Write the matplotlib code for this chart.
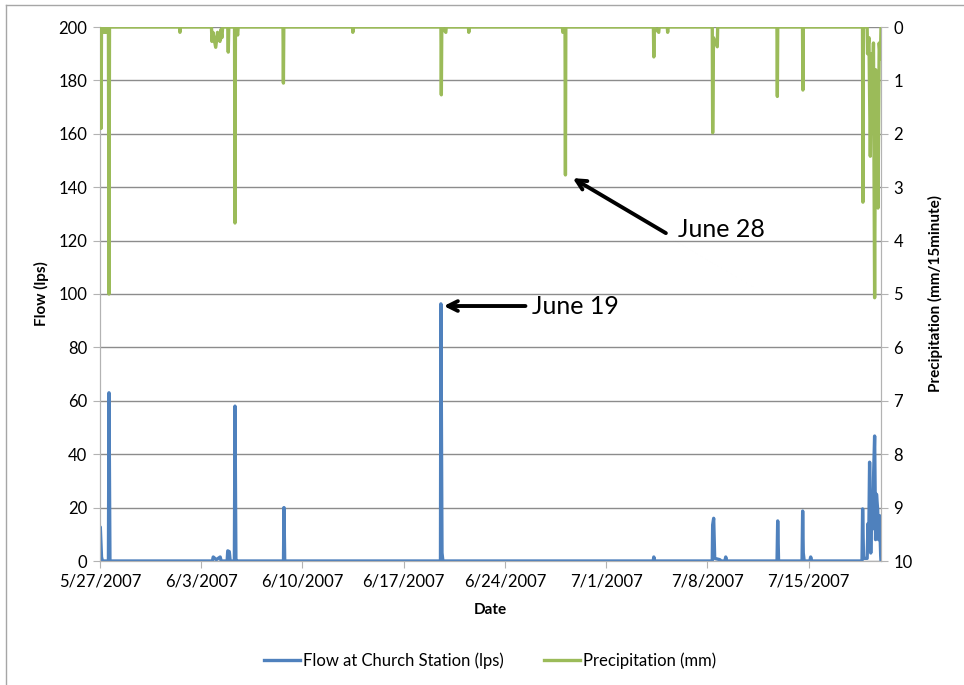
import numpy as np
import pandas as pd
import matplotlib
matplotlib.use("Agg")
import matplotlib.pyplot as plt
from matplotlib.lines import Line2D

plt.rcParams['font.family'] = ['Lato', 'DejaVu Sans']

# Flow at Church Station (lps)
flow_times = [
    "2007-05-27 00:00", "2007-05-27 00:30", "2007-05-27 02:30", "2007-05-27 04:00",
    "2007-05-27 14:00", "2007-05-27 14:55", "2007-05-27 16:30",
    "2007-06-03 18:30", "2007-06-03 19:55", "2007-06-04 01:00", "2007-06-04 07:25", "2007-06-04 09:00",
    "2007-06-04 19:00", "2007-06-04 20:00", "2007-06-04 22:30", "2007-06-05 00:00",
    "2007-06-05 07:00", "2007-06-05 08:00", "2007-06-05 09:30", "2007-06-05 11:00",
    "2007-06-08 16:30", "2007-06-08 17:15", "2007-06-08 18:30",
    "2007-06-19 13:00", "2007-06-19 13:40", "2007-06-19 15:30", "2007-06-19 17:00",
    "2007-07-04 06:00", "2007-07-04 07:00", "2007-07-04 08:30",
    "2007-07-08 08:00", "2007-07-08 08:40", "2007-07-08 10:20", "2007-07-08 12:00",
    "2007-07-08 20:20", "2007-07-08 23:00",
    "2007-07-09 05:00", "2007-07-09 06:20", "2007-07-09 08:00",
    "2007-07-12 19:30", "2007-07-12 20:35", "2007-07-12 22:00",
    "2007-07-14 13:00", "2007-07-14 14:00", "2007-07-14 15:00", "2007-07-14 16:30",
    "2007-07-15 02:00", "2007-07-15 03:20", "2007-07-15 05:00",
    "2007-07-18 16:30", "2007-07-18 17:30", "2007-07-18 19:00",
    "2007-07-19 01:00", "2007-07-19 02:30", "2007-07-19 03:30", "2007-07-19 05:05",
    "2007-07-19 07:00", "2007-07-19 08:30", "2007-07-19 10:00", "2007-07-19 11:30",
    "2007-07-19 13:25", "2007-07-19 15:00", "2007-07-19 16:30", "2007-07-19 18:30",
    "2007-07-19 20:00", "2007-07-19 21:30", "2007-07-19 23:30", "2007-07-20 00:00",
]
flow_lps = [
    0, 12.7, 1.5, 0,
    0, 63, 0,
    0, 1.5, 0.5, 1.5, 0,
    0, 3.8, 3.5, 0,
    0, 58, 0.5, 0,
    0, 20, 0,
    0, 96.3, 3, 0,
    0, 1.5, 0,
    0, 13.5, 16, 1,
    0.5, 0,
    0, 1.5, 0,
    0, 15, 0,
    0, 18.7, 3, 0,
    0, 1.5, 0,
    0, 19.5, 1,
    1, 14, 4, 37,
    3, 20, 12, 30,
    46.8, 8, 25, 19,
    8, 17, 2, 0,
]

# Precipitation (mm per 15 minutes)
rain_times = [
    "2007-05-27 00:00", "2007-05-27 01:40", "2007-05-27 02:30", "2007-05-27 06:40",
    "2007-05-27 08:00", "2007-05-27 10:00", "2007-05-27 11:00",
    "2007-05-27 14:00", "2007-05-27 14:55", "2007-05-27 15:45",
    "2007-06-01 12:00", "2007-06-01 12:40", "2007-06-01 13:30",
    "2007-06-03 17:00", "2007-06-03 17:45", "2007-06-03 19:25", "2007-06-04 00:00",
    "2007-06-04 03:00", "2007-06-04 07:00", "2007-06-04 08:30", "2007-06-04 10:20", "2007-06-04 11:30",
    "2007-06-04 20:00", "2007-06-04 20:50", "2007-06-04 21:40",
    "2007-06-05 07:15", "2007-06-05 08:00", "2007-06-05 08:45", "2007-06-05 12:30", "2007-06-05 13:15",
    "2007-06-08 15:40", "2007-06-08 16:20", "2007-06-08 17:00",
    "2007-06-13 11:00", "2007-06-13 11:35", "2007-06-13 12:15",
    "2007-06-19 13:45", "2007-06-19 14:25", "2007-06-19 15:10", "2007-06-19 21:50", "2007-06-19 22:30",
    "2007-06-21 11:20", "2007-06-21 12:00", "2007-06-21 12:40",
    "2007-06-27 23:15", "2007-06-28 00:00", "2007-06-28 03:40", "2007-06-28 04:20", "2007-06-28 05:00",
    "2007-07-04 06:20", "2007-07-04 07:00", "2007-07-04 07:40", "2007-07-04 15:10", "2007-07-04 15:50",
    "2007-07-05 05:20", "2007-07-05 06:00", "2007-07-05 06:40",
    "2007-07-08 08:00", "2007-07-08 08:40", "2007-07-08 10:00", "2007-07-08 16:20", "2007-07-08 17:00",
    "2007-07-12 19:20", "2007-07-12 20:00", "2007-07-12 20:40",
    "2007-07-14 13:45", "2007-07-14 14:25", "2007-07-14 15:05",
    "2007-07-18 17:20", "2007-07-18 18:00", "2007-07-18 18:40",
    "2007-07-19 01:00", "2007-07-19 01:40", "2007-07-19 04:00", "2007-07-19 06:15",
    "2007-07-19 08:00", "2007-07-19 10:00", "2007-07-19 11:30", "2007-07-19 13:25",
    "2007-07-19 15:00", "2007-07-19 17:00", "2007-07-19 19:00", "2007-07-19 21:00",
    "2007-07-19 23:00", "2007-07-20 00:00",
]
rain_mm = [
    0, 1.9, 0, 0.1,
    0, 0.1, 0,
    0, 5.0, 0,
    0, 0.1, 0,
    0, 0.27, 0.1, 0.38,
    0.1, 0.27, 0.05, 0.2, 0,
    0, 0.47, 0,
    0, 3.67, 0, 0.15, 0,
    0, 1.05, 0,
    0, 0.1, 0,
    0, 1.27, 0, 0.1, 0,
    0, 0.1, 0,
    0, 0.1, 0, 2.77, 0,
    0, 0.56, 0, 0.1, 0,
    0, 0.1, 0,
    0, 1.98, 0.2, 0.37, 0,
    0, 1.3, 0,
    0, 1.18, 0,
    0, 3.28, 0,
    0, 0.5, 0.2, 2.42,
    0.5, 1.2, 0.3, 5.07,
    0.8, 1.5, 3.39, 0.3,
    0.6, 0,
]

week_ticks = ["2007-05-27", "2007-06-03", "2007-06-10", "2007-06-17",
              "2007-06-24", "2007-07-01", "2007-07-08", "2007-07-15"]

blue = "#4f81bd"
green = "#9bbb59"
grid_c = "#8c8c8c"
axis_c = "#b3b3b3"

fig = plt.figure(figsize=(9.64, 6.85), dpi=100)
ax = fig.add_axes([100/964, 1 - 561/685, (881-100)/964, (561-27)/685])
ax2 = ax.twinx()

ax.plot(pd.to_datetime(flow_times), flow_lps, color=blue, lw=2.4,
        solid_joinstyle="round", zorder=3)
ax2.plot(pd.to_datetime(rain_times), rain_mm, color=green, lw=2.4,
         solid_joinstyle="round", zorder=3)

ax.set_xlim(pd.Timestamp("2007-05-27"), pd.Timestamp("2007-07-20"))
ax.set_ylim(0, 200)
ax.set_yticks(np.arange(0, 201, 20))
ax2.set_ylim(10, 0)
ax2.set_yticks(np.arange(0, 11, 1))

ticks = pd.to_datetime(week_ticks)
ax.set_xticks(ticks)
ax.set_xticklabels([f"{d.month}/{d.day}/{d.year}" for d in ticks])

ax.yaxis.grid(True, color=grid_c, lw=1)
ax.set_axisbelow(True)

for a in (ax, ax2):
    for s in a.spines.values():
        s.set_color(axis_c)
    a.spines["top"].set_visible(False)
    a.tick_params(direction="out", length=5, color=axis_c, labelsize=12, pad=4)

ax.set_xlabel("Date", fontsize=11, fontweight="bold", labelpad=10)
ax.set_ylabel("Flow (lps)", fontsize=11, fontweight="bold", labelpad=7)
ax2.set_ylabel("Precipitation (mm/15minute)", fontsize=11, fontweight="bold",
               labelpad=11, rotation=90)

# annotations
arrow = dict(arrowstyle="->, head_length=0.7, head_width=0.35", lw=2.8, color="black",
             shrinkA=0, shrinkB=0)
ax.annotate("", xy=(pd.Timestamp("2007-06-19 18:30"), 95.5),
            xytext=(pd.Timestamp("2007-06-25 10:00"), 95.5), arrowprops=arrow)
ax.text(pd.Timestamp("2007-06-25 21:00"), 95.5, "June 19", fontsize=18,
        ha="left", va="center")
ax2.annotate("", xy=(pd.Timestamp("2007-06-28 16:30"), 2.83),
             xytext=(pd.Timestamp("2007-07-05 03:00"), 3.86), arrowprops=arrow)
ax2.text(pd.Timestamp("2007-07-05 22:30"), 3.8, "June 28", fontsize=18,
         ha="left", va="center")

handles = [Line2D([], [], color=blue, lw=2.4), Line2D([], [], color=green, lw=2.4)]
fig.legend(handles, ["Flow at Church Station (lps)", "Precipitation (mm)"],
           loc="center", bbox_to_anchor=(0.508, 1 - 661/685), ncol=2, frameon=False,
           fontsize=12, handlelength=2.2, handletextpad=0.15, columnspacing=2.4)

# outer chart frame
fig.add_artist(Line2D([6/964, 6/964], [0, 1 - 5/685], color="#a6a6a6", lw=1))
fig.add_artist(Line2D([6/964, 1], [1 - 5/685, 1 - 5/685], color="#a6a6a6", lw=1))

fig.savefig("out.png", dpi=100)
